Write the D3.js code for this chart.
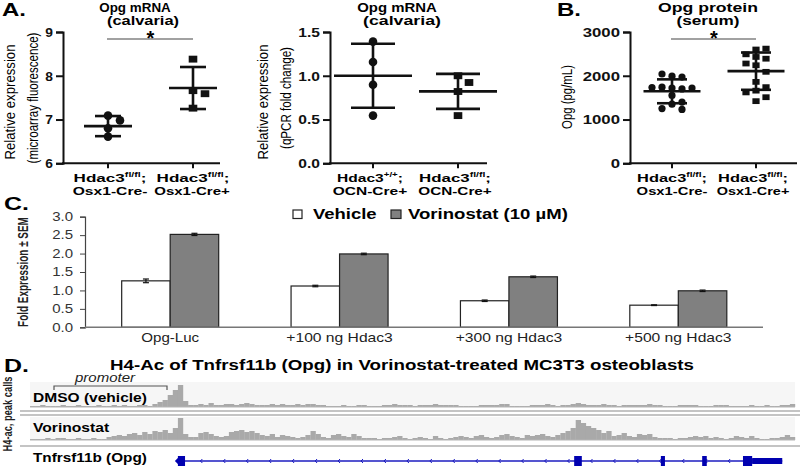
<!DOCTYPE html>
<html><head><meta charset="utf-8">
<script src="https://cdn.jsdelivr.net/npm/d3@7"></script>
<style>
body{margin:0;background:#fff;}
text{font-family:"Liberation Sans",Arial,Helvetica,sans-serif;}
</style></head>
<body><svg id="c" width="800" height="467"></svg>
<script>
// ---------------- DATA ----------------
// Panel A (left): microarray, Opg mRNA
const a1Groups = ["ctrl", "cko"];
const a1Ticks = [6, 7, 8, 9];
const a1Ctrl = [7.09, 6.98, 6.80, 6.61];
const a1Cko = [8.38, 7.66, 7.59, 7.26];
const a1Mean = [6.85, 7.72];
const a1SD = [0.23, 0.48];
// Panel A (right): qPCR, Opg mRNA
const a2Groups = ["wt", "cko"];
const a2Ticks = [0, 0.5, 1.0, 1.5];
const a2Ctrl = [1.39, 1.157, 0.897, 0.545];
const a2Cko = [1.0, 0.923, 0.82, 0.545];
const a2Mean = [1.0, 0.822];
const a2SD = [0.365, 0.2];
// Panel B: Opg protein serum
const bGroups = ["ctrl", "cko"];
const bTicks = [0, 1000, 2000, 3000];
const bCtrl = [1990, 1970, 2040, 1720, 1700, 1740, 1720, 1730, 1550, 1350, 1400, 1230, 1250];
const bCko = [2600, 2620, 2430, 2390, 2490, 2280, 2240, 2090, 1860, 1740, 1660, 1620, 1510, 1420];
const bMean = [1645, 2105];
const bSD = [273, 426];
// Panel C: luciferase
const cCategories = ["Opg-Luc", "+100 ng Hdac3", "+300 ng Hdac3", "+500 ng Hdac3"];
const cSeries = ["Vehicle", "Vorinostat (10 µM)"];
const cVehicle = [1.26, 1.12, 0.72, 0.60];
const cVehicleSEM = [0.05, 0.02, 0.02, 0.01];
const cVorinostat = [2.52, 1.99, 1.37, 0.99];
const cVorinostatSEM = [0.03, 0.02, 0.02, 0.02];
const cTicks = [0, 0.5, 1.0, 1.5, 2.0, 2.5, 3.0];
// Panel D: H4-Ac coverage (bins along locus)
const dmsoCoverage = [
 1,1,2,1,1,1,2,1,1,2, 1,1,1,2,1,1,2,1,2,1, 1,2,2,1,3,5,7,12,17,22,
 6,2,2,3,2,4,2,2,3,3, 2,3,4,3,2,2,2,3,2,3, 2,2,3,2,3,3,2,2,1,1,
 1,2,1,1,2,2,1,1,1,2, 2,3,2,2,2,1,2,2,2,3, 2,2,2,2,1,1,1,1,2,2,
 2,2,3,3,1,1,1,1,2,2, 2,3,2,1,2,2,3,4,3,2, 2,2,3,2,2,1,2,2,2,2,
 2,3,2,2,1,1,1,2,2,2, 2,1,1,1,2,2,2,1,1,1, 1,2,1,1,2,1,1,2,2,3];
const vorinostatCoverage = [
 1,1,1,2,1,2,2,1,1,2, 1,1,2,1,1,3,4,5,4,6, 7,5,8,6,9,8,10,7,12,22,
 6,3,3,7,8,6,4,3,4,8, 9,10,8,9,7,5,4,6,3,5, 4,3,2,3,5,9,6,3,2,5,
 6,4,3,6,4,2,2,2,1,2, 2,3,4,2,1,2,3,2,1,4, 2,1,2,3,4,3,2,4,5,3,
 2,3,5,6,4,3,2,5,4,5, 6,4,3,5,7,9,12,20,17,14, 12,10,7,9,4,5,7,4,3,6,
 5,6,3,2,2,2,1,2,2,3, 4,3,4,2,3,2,1,2,4,3, 2,4,2,1,1,2,2,3,5,3];
const geneSpan = [29.0, 147.5];
const geneExons = [[29.0, 30.4], [106.7, 108.2], [123.7, 124.5], [131.8, 132.7], [139.8, 141.6]];
const geneUTR = [[141.6, 147.5]];

// ---------------- HELPERS ----------------
const svg = d3.select("#c");
function label(parent, x, y, parts, o = {}) {
  const size = o.size || 12;
  const g = parent.append("g").attr("transform", `translate(${x},${y})` + (o.rotate ? ` rotate(${o.rotate})` : ""));
  const t = g.append("text").attr("text-anchor", o.anchor || "start")
    .style("font-size", size + "px").style("font-weight", o.weight || "normal")
    .style("font-style", o.italic ? "italic" : "normal").attr("fill", o.fill || "#000");
  const arr = Array.isArray(parts) ? parts : [[parts]];
  let shifted = false;
  arr.forEach(p => {
    const s = t.append("tspan").text(p[0]);
    if (p[1]) { s.attr("dy", -size * 0.38).style("font-size", (size * 0.62) + "px"); shifted = true; }
    else if (shifted) { s.attr("dy", size * 0.38); shifted = false; }
  });
  if (o.width) {
    const w = t.node().getBBox().width;
    if (w > 0) t.attr("transform", `scale(${o.width / w},1)`);
  } else if (o.sx) t.attr("transform", `scale(${o.sx},1)`);
  return t;
}
function swarm(vals, cx, y, step, minD) {
  const placed = [];
  vals.forEach(v => {
    const py = y(v);
    for (let k = 0; k < 40; k++) {
      const off = k === 0 ? 0 : (k % 2 ? 1 : -1) * Math.ceil(k / 2) * step;
      const px = cx + off;
      if (placed.every(p => Math.hypot(p.x - px, p.y - py) >= minD)) { placed.push({ x: px, y: py, v }); break; }
    }
  });
  return placed;
}
function scatterPanel(cfg) {
  const g = svg.append("g");
  const y = d3.scaleLinear().domain(cfg.domain).range([163.3, 32]);
  const x = d3.scalePoint().domain(cfg.groups).range(cfg.xr);
  const ax = g.append("g").attr("transform", `translate(${cfg.ax},0)`)
    .call(d3.axisLeft(y).tickValues(cfg.ticks).tickSize(7).tickFormat(cfg.fmt));
  ax.select(".domain").attr("stroke", "#111").attr("stroke-width", 2);
  ax.selectAll(".tick line").attr("stroke", "#111").attr("stroke-width", 2);
  ax.selectAll(".tick text").attr("x", 0).attr("dy", "0.36em")
    .attr("transform", `translate(-10,0) scale(${cfg.tsx},1)`)
    .style("font-size", "12px").style("font-weight", "bold").attr("fill", "#111")
    .style("font-family", '"Liberation Sans",Arial,sans-serif');
  g.append("line").attr("x1", cfg.ax - 1).attr("x2", cfg.axEnd).attr("y1", y(cfg.domain[0])).attr("y2", y(cfg.domain[0]))
    .attr("stroke", "#111").attr("stroke-width", 2);
  cfg.groups.forEach(gr => {
    g.append("line").attr("x1", x(gr)).attr("x2", x(gr)).attr("y1", y(cfg.domain[0])).attr("y2", y(cfg.domain[0]) + 5)
      .attr("stroke", "#111").attr("stroke-width", 2);
  });
  [cfg.ctrl, cfg.cko].forEach((vals, gi) => {
    const pts = swarm(vals, x(cfg.groups[gi]), y, cfg.step, cfg.minD);
    if (gi === 0) {
      g.selectAll(null).data(pts).enter().append("circle")
        .attr("cx", d => d.x).attr("cy", d => d.y).attr("r", cfg.r).attr("fill", "#111");
    } else {
      g.selectAll(null).data(pts).enter().append("rect")
        .attr("x", d => d.x - cfg.r).attr("y", d => d.y - cfg.r * 0.8)
        .attr("width", cfg.r * 2).attr("height", cfg.r * 1.6).attr("fill", "#111");
    }
  });
  cfg.groups.forEach((gr, i) => {
    const cx = x(gr), m = cfg.mean[i], s = cfg.sd[i];
    const L = (x1, y1, x2, y2) => g.append("line").attr("x1", x1).attr("y1", y1).attr("x2", x2).attr("y2", y2)
      .attr("stroke", "#111").attr("stroke-width", 2.6);
    L(cx - cfg.meanW / 2, y(m), cx + cfg.meanW / 2, y(m));
    L(cx, y(m + s), cx, y(m - s));
    L(cx - cfg.capW / 2, y(m + s), cx + cfg.capW / 2, y(m + s));
    L(cx - cfg.capW / 2, y(m - s), cx + cfg.capW / 2, y(m - s));
  });
  if (cfg.star) {
    g.append("line").attr("x1", x(cfg.groups[0]) - 1).attr("x2", x(cfg.groups[1])).attr("y1", 39).attr("y2", 39)
      .attr("stroke", "#444").attr("stroke-width", 1.2);
    label(g, (x(cfg.groups[0]) + x(cfg.groups[1])) / 2, 45, "*", { size: 20, weight: "bold", anchor: "middle" });
  }
  return { g, x, y };
}

// ---------------- PANEL A (left) ----------------
scatterPanel({ groups: a1Groups, domain: [6, 9], ticks: a1Ticks, fmt: d3.format("d"), xr: [108, 193],
  ax: 63, axEnd: 220, tsx: 1.15, ctrl: a1Ctrl, cko: a1Cko, mean: a1Mean, sd: a1SD, meanW: 48, capW: 26,
  r: 4.3, step: 12, minD: 8, star: true });
label(svg, 2, 16, "A.", { size: 18, weight: "bold", width: 24 });
label(svg, 135, 11.5, "Opg mRNA", { size: 12, weight: "bold", anchor: "middle", width: 72 });
label(svg, 143, 25, "(calvaria)", { size: 12, weight: "bold", anchor: "middle", width: 72 });
label(svg, 15, 102, "Relative expression", { size: 15, anchor: "middle", rotate: -90, width: 115 });
label(svg, 38, 98, "(microarray fluorescence)", { size: 15, anchor: "middle", rotate: -90, width: 131 });
label(svg, 110, 181.5, [["Hdac3"], ["fl/fl", 1], [";"]], { size: 11.5, weight: "bold", anchor: "middle", width: 73 });
label(svg, 110, 195, "Osx1-Cre-", { size: 11.5, weight: "bold", anchor: "middle", width: 75 });
label(svg, 193, 181.5, [["Hdac3"], ["fl/fl", 1], [";"]], { size: 11.5, weight: "bold", anchor: "middle", width: 73 });
label(svg, 192, 195, "Osx1-Cre+", { size: 11.5, weight: "bold", anchor: "middle", width: 76 });

// ---------------- PANEL A (right) ----------------
scatterPanel({ groups: a2Groups, domain: [0, 1.5], ticks: a2Ticks, fmt: d3.format(".1f"), xr: [373, 458],
  ax: 330, axEnd: 487, tsx: 1.3, ctrl: a2Ctrl, cko: a2Cko, mean: a2Mean, sd: a2SD, meanW: 78, capW: 44,
  r: 4.3, step: 11, minD: 8, star: false });
label(svg, 397, 11.5, "Opg mRNA", { size: 12, weight: "bold", anchor: "middle", width: 80 });
label(svg, 402, 25, "(calvaria)", { size: 12, weight: "bold", anchor: "middle", width: 78 });
label(svg, 268, 102, "Relative expression", { size: 15, anchor: "middle", rotate: -90, width: 115 });
label(svg, 291, 98, "(qPCR fold change)", { size: 15, anchor: "middle", rotate: -90, width: 102 });
label(svg, 370, 181.5, [["Hdac3"], ["+/+", 1], [";"]], { size: 11.5, weight: "bold", anchor: "middle", width: 66 });
label(svg, 370, 195, "OCN-Cre+", { size: 11.5, weight: "bold", anchor: "middle", width: 75 });
label(svg, 455, 181.5, [["Hdac3"], ["fl/fl", 1], [";"]], { size: 11.5, weight: "bold", anchor: "middle", width: 72 });
label(svg, 455, 195, "OCN-Cre+", { size: 11.5, weight: "bold", anchor: "middle", width: 74 });

// ---------------- PANEL B ----------------
scatterPanel({ groups: bGroups, domain: [0, 3000], ticks: bTicks, fmt: d3.format("d"), xr: [672, 756],
  ax: 630, axEnd: 797, tsx: 1.4, ctrl: bCtrl, cko: bCko, mean: bMean, sd: bSD, meanW: 57, capW: 30,
  r: 3.6, step: 10, minD: 7, star: true });
label(svg, 557, 16, "B.", { size: 18, weight: "bold", width: 24 });
label(svg, 708, 11.5, "Opg protein", { size: 12, weight: "bold", anchor: "middle", width: 100 });
label(svg, 708, 25, "(serum)", { size: 12, weight: "bold", anchor: "middle", width: 63 });
label(svg, 572, 97, "Opg (pg/mL)", { size: 15, anchor: "middle", rotate: -90, width: 64 });
label(svg, 672, 181.5, [["Hdac3"], ["fl/fl", 1], [";"]], { size: 11.5, weight: "bold", anchor: "middle", width: 70 });
label(svg, 672, 195, "Osx1-Cre-", { size: 11.5, weight: "bold", anchor: "middle", width: 71 });
label(svg, 753, 181.5, [["Hdac3"], ["fl/fl", 1], [";"]], { size: 11.5, weight: "bold", anchor: "middle", width: 70 });
label(svg, 753, 195, "Osx1-Cre+", { size: 11.5, weight: "bold", anchor: "middle", width: 73 });

// ---------------- PANEL C ----------------
(function () {
  const g = svg.append("g");
  const y = d3.scaleLinear().domain([0, 3]).range([327.3, 216.7]);
  const x0 = d3.scaleBand().domain(cCategories).range([85.5, 763]);
  const bw = 48.5;
  const x1 = d3.scaleBand().domain(cSeries).range([-bw, bw]);
  const fills = ["#ffffff", "#808080"];
  const vals = [cVehicle, cVorinostat], sems = [cVehicleSEM, cVorinostatSEM];
  const ax = g.append("g").attr("transform", "translate(85,0)")
    .call(d3.axisLeft(y).tickValues(cTicks).tickSize(5).tickFormat(d3.format(".1f")));
  ax.select(".domain").attr("stroke", "#444").attr("stroke-width", 1.2);
  ax.selectAll(".tick line").attr("stroke", "#444");
  ax.selectAll(".tick text").attr("x", 0).attr("transform", "translate(-12,0) scale(1.25,1)")
    .style("font-size", "12px").attr("fill", "#333").style("font-family", '"Liberation Sans",Arial,sans-serif');
  cSeries.forEach((s, si) => {
    cCategories.forEach((c, ci) => {
      const v = vals[si][ci], e = sems[si][ci];
      const bx = x0(c) + x0.bandwidth() / 2 + x1(s);
      g.append("rect").attr("x", bx).attr("y", y(v)).attr("width", x1.bandwidth()).attr("height", y(0) - y(v))
        .attr("fill", fills[si]).attr("stroke", "#222").attr("stroke-width", 1.2);
      const cx = bx + x1.bandwidth() / 2;
      g.append("line").attr("x1", cx).attr("x2", cx).attr("y1", y(v + e)).attr("y2", y(v - e)).attr("stroke", "#111").attr("stroke-width", 1.2);
      [v + e, v - e].forEach(t => g.append("line").attr("x1", cx - 3).attr("x2", cx + 3).attr("y1", y(t)).attr("y2", y(t)).attr("stroke", "#111").attr("stroke-width", 1.2));
    });
  });
  g.append("line").attr("x1", 85).attr("x2", 763).attr("y1", y(0)).attr("y2", y(0)).attr("stroke", "#777").attr("stroke-width", 1.5);
  cCategories.forEach(c => {
    label(g, x0(c) + x0.bandwidth() / 2, 342, c, { size: 12, anchor: "middle", fill: "#222", width: c === "Opg-Luc" ? 58 : 107 });
  });
  g.append("rect").attr("x", 293).attr("y", 210).attr("width", 9).attr("height", 8.5).attr("fill", fills[0]).attr("stroke", "#222").attr("stroke-width", 1.2);
  label(g, 313, 218.5, cSeries[0], { size: 14, weight: "bold", width: 64 });
  g.append("rect").attr("x", 391).attr("y", 210).attr("width", 10).attr("height", 8.5).attr("fill", fills[1]).attr("stroke", "#222").attr("stroke-width", 1.2);
  label(g, 408, 218.5, cSeries[1], { size: 14, weight: "bold", width: 160 });
  label(g, 4, 210, "C.", { size: 18, weight: "bold", width: 25 });
  label(g, 28, 272, "Fold Expression ± SEM", { size: 14, weight: "bold", anchor: "middle", rotate: -90, width: 110, fill: "#222" });
})();

// ---------------- PANEL D ----------------
(function () {
  const g = svg.append("g");
  const x = d3.scaleLinear().domain([0, dmsoCoverage.length]).range([30, 795]);
  const h = d3.scaleLinear().domain([0, 22]).range([0, 22]);
  g.append("rect").attr("x", 30).attr("y", 382).attr("width", 765).attr("height", 25).attr("fill", "#f6f6f6");
  g.append("rect").attr("x", 30).attr("y", 417).attr("width", 765).attr("height", 23).attr("fill", "#f6f6f6");
  const tracks = [[dmsoCoverage, 407], [vorinostatCoverage, 440]];
  tracks.forEach(([cov, base]) => {
    g.selectAll(null).data(cov).enter().append("rect")
      .attr("x", (d, i) => x(i)).attr("width", (d, i) => x(i + 1) - x(i) + 0.2)
      .attr("y", d => base - h(d)).attr("height", d => h(d)).attr("fill", "#a9a9a9");
    g.append("line").attr("x1", 30).attr("x2", 795).attr("y1", base).attr("y2", base).attr("stroke", "#b5b5b5").attr("stroke-width", 1);
  });
  [[411, "#b0b0b0", 1.6], [415, "#b0b0b0", 1.6], [446, "#c4c4c4", 2.2]].forEach(([yy, c, w]) =>
    g.append("line").attr("x1", 20).attr("x2", 800).attr("y1", yy).attr("y2", yy).attr("stroke", c).attr("stroke-width", w));
  const gy = 461, blue = "#1c1cc0";
  g.append("line").attr("x1", x(geneSpan[0])).attr("x2", x(geneSpan[1])).attr("y1", gy).attr("y2", gy).attr("stroke", blue).attr("stroke-width", 1.5);
  d3.range(geneSpan[0] + 4.5, geneSpan[1], 4.5).forEach(p => {
    g.append("path").attr("d", `M${x(p) + 1.5},${gy - 2} L${x(p) - 0.5},${gy} L${x(p) + 1.5},${gy + 2}`).attr("fill", "none").attr("stroke", blue).attr("stroke-width", 1);
  });
  g.selectAll(null).data(geneExons).enter().append("rect")
    .attr("x", d => x(d[0])).attr("width", d => x(d[1]) - x(d[0])).attr("y", gy - 5).attr("height", 10).attr("fill", "#0000b0");
  g.selectAll(null).data(geneUTR).enter().append("rect")
    .attr("x", d => x(d[0])).attr("width", d => x(d[1]) - x(d[0])).attr("y", gy - 3).attr("height", 6).attr("fill", "#0000b0");
  g.append("path").attr("d", `M${x(geneSpan[0]) - 3},${gy} L${x(geneSpan[0]) + 2},${gy - 5} L${x(geneSpan[0]) + 2},${gy + 5} Z`).attr("fill", "#0000b0");
  g.append("path").attr("d", "M54,390 L54,386 L167,386 L167,390").attr("fill", "none").attr("stroke", "#555").attr("stroke-width", 1.2);
  label(g, 75, 382, "promoter", { size: 13, italic: true, width: 62, fill: "#222" });
  label(g, 33, 402, "DMSO (vehicle)", { size: 13, weight: "bold", width: 114 });
  label(g, 33, 432, "Vorinostat", { size: 13, weight: "bold", width: 77 });
  label(g, 33, 462, "Tnfrsf11b (Opg)", { size: 13, weight: "bold", width: 114 });
  label(g, 4, 372, "D.", { size: 18, weight: "bold", width: 25 });
  label(g, 402, 370, "H4-Ac of Tnfrsf11b (Opg) in Vorinostat-treated MC3T3 osteoblasts", { size: 14, weight: "bold", anchor: "middle", width: 585 });
  label(g, 12, 414, "H4-ac, peak calls", { size: 13, weight: "bold", anchor: "middle", rotate: -90, width: 75, fill: "#222" });
})();
</script></body></html>
